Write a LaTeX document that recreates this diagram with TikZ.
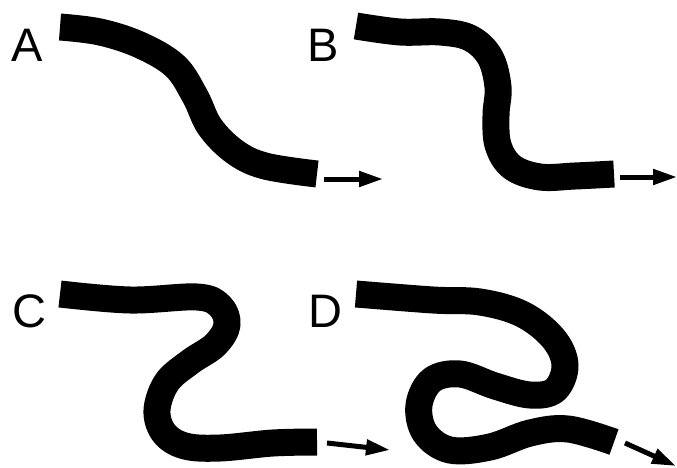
\documentclass[tikz,border=0pt]{standalone}
\usepackage{fontspec}
\setmainfont{Liberation Sans}
\usetikzlibrary{arrows.meta}
\begin{document}
\begin{tikzpicture}[x=1pt,y=-1pt,
  lbl/.style={font=\fontsize{47}{47}\selectfont, inner sep=0pt},
  worm/.style={line width=27pt, line join=round},
  push/.style={line width=5pt, -{Triangle[length=24pt,width=15pt]}}]
\useasboundingbox (0,0) rectangle (677,468);
\node[lbl] (la) at (27,45) {A};
\node[lbl] (lb) at (323,45) {B};
\node[lbl] (lc) at (29,311) {C};
\node[lbl] (ld) at (325,311) {D};
% A
\draw[worm] plot[smooth, tension=0.6] coordinates {(60,27) (100,32) (140,45) (175,66) (195,96) (210,127) (235,152) (265,166) (317,174)};
% B
\draw[worm] plot[smooth, tension=0.6] coordinates {(356,26) (400,32) (440,32) (470,38) (490,57) (498,87) (496,115) (498,145) (512,167) (540,177) (575,176) (614,174)};
% C
\draw[worm] plot[smooth, tension=0.6] coordinates {(60,294) (130,300) (197,297) (220,306) (227,325) (215,345) (190,362) (167,382) (157,410) (164,433) (185,446) (220,448) (273,443) (317,442)};
% D
\draw[worm] plot[smooth, tension=0.6] coordinates {(356,294) (433,300) (480,302) (522,314) (553,338) (565,365) (555,390) (530,395) (495,386) (460,374) (432,380) (419,405) (425,433) (450,450) (490,447) (530,433) (568,429) (614,442)};
\coordinate (a1) at (324,179);
\coordinate (a2) at (383,179);
\coordinate (b1) at (620,177);
\coordinate (b2) at (677,177);
\coordinate (c1) at (327,443);
\coordinate (c2) at (390,450);
\coordinate (d1) at (625,443);
\coordinate (d2) at (676,466);
\draw[push] (a1) -- (a2);
\draw[push] (b1) -- (b2);
\draw[push] (c1) -- (c2);
\draw[push] (d1) -- (d2);
\end{tikzpicture}
\end{document}
